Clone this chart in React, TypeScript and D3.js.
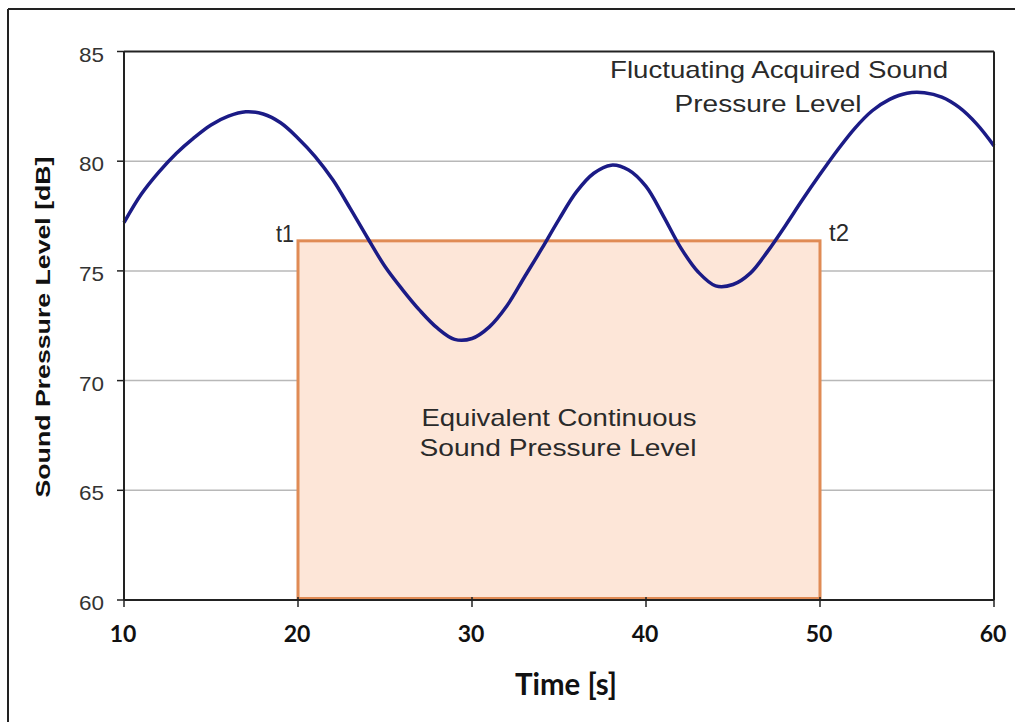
import React from "react";
import * as d3 from "d3";

const timeS: number[] = [
  10, 11, 12, 13, 14, 15, 16, 17, 18, 19, 20, 21, 22, 23, 24, 25, 26, 27, 28, 29, 30,
  31, 32, 33, 34, 35, 36, 37, 38, 39, 40, 41, 42, 43, 44, 45, 46, 47, 48, 49, 50,
  51, 52, 53, 54, 55, 56, 57, 58, 59, 60,
];
const splDb: number[] = [
  77.2, 78.5, 79.5, 80.35, 81.05, 81.65, 82.05, 82.25, 82.15, 81.75, 81.05, 80.2, 79.15, 77.85, 76.5,
  75.2, 74.15, 73.2, 72.4, 71.88, 71.92, 72.45, 73.4, 74.7, 76.0, 77.35, 78.6, 79.45, 79.82, 79.6,
  78.85, 77.5, 76.05, 74.95, 74.32, 74.38, 74.9, 75.9, 77.05, 78.25, 79.4, 80.5, 81.5, 82.3, 82.82,
  83.1, 83.12, 82.92, 82.45, 81.7, 80.7,
];
const xTicks: number[] = [10, 20, 30, 40, 50, 60];
const yTicks: number[] = [60, 65, 70, 75, 80, 85];
const intervalStart = 20; // t1
const intervalEnd = 50; // t2
const leqLevel = 76.37;
const yMin = 60;
const yMax = 85;

const W = 1015;
const H = 722;

export default function App() {
  const x = d3.scaleLinear().domain([10, 60]).range([124, 994]);
  const y = d3.scaleLinear().domain([yMin, yMax]).range([600, 51.5]);
  const line = d3
    .line<number>()
    .x((_, i) => x(timeS[i]))
    .y((d) => y(d))
    .curve(d3.curveCatmullRom.alpha(0.5));

  const sans = "'Liberation Sans', Arial, sans-serif";
  const bold = "Lato, 'Liberation Sans', sans-serif";

  return (
    <svg
      width={W}
      height={H}
      viewBox={`0 0 ${W} ${H}`}
      style={{ position: "absolute", left: 0, top: 0, background: "#fff" }}
    >
      <rect x={0} y={0} width={W} height={H} fill="#fff" />
      {/* outer frame (top + left visible) */}
      <line x1={8} y1={9} x2={W} y2={9} stroke="#222" strokeWidth={2} />
      <line x1={8} y1={9} x2={8} y2={H} stroke="#222" strokeWidth={2} />

      {/* gridlines */}
      {yTicks
        .filter((t) => t > yMin && t < yMax)
        .map((t) => (
          <line key={"g" + t} x1={x(10)} x2={x(60)} y1={y(t)} y2={y(t)} stroke="#b8b8b8" strokeWidth={1.5} />
        ))}

      {/* Leq rectangle */}
      <rect
        x={x(intervalStart)}
        y={y(leqLevel)}
        width={x(intervalEnd) - x(intervalStart)}
        height={y(yMin) - y(leqLevel) - 1.5}
        fill="#fde6d8"
        stroke="#e08b55"
        strokeWidth={3}
      />

      {/* curve */}
      <path d={line(splDb) || ""} fill="none" stroke="#1b1b86" strokeWidth={3.5} strokeLinejoin="round" />

      {/* plot frame */}
      <line x1={x(10)} x2={x(60)} y1={y(yMax)} y2={y(yMax)} stroke="#222" strokeWidth={2} />
      <line x1={x(60)} x2={x(60)} y1={y(yMax)} y2={y(yMin)} stroke="#222" strokeWidth={2} />
      <line x1={x(10)} x2={x(10)} y1={y(yMax)} y2={y(yMin)} stroke="#222" strokeWidth={2} />
      <line x1={x(10)} x2={x(60)} y1={y(yMin)} y2={y(yMin)} stroke="#222" strokeWidth={2} />

      {/* y ticks */}
      {yTicks.map((t) => (
        <g key={"y" + t}>
          <line x1={x(10) - 7} x2={x(10)} y1={y(t)} y2={y(t)} stroke="#222" strokeWidth={1.5} />
          <text
            x={104}
            y={y(t) + 2.5}
            textAnchor="end"
            dominantBaseline="central"
            fontFamily={sans}
            fontSize={21}
            fill="#333"
            textLength={25}
            lengthAdjust="spacingAndGlyphs"
          >
            {t}
          </text>
        </g>
      ))}

      {/* x ticks */}
      {xTicks.map((t) => (
        <g key={"x" + t}>
          <line x1={x(t)} x2={x(t)} y1={y(yMin) - 3} y2={y(yMin) + 7} stroke="#222" strokeWidth={1.5} />
          <text x={x(t) - 1} y={642} textAnchor="middle" fontFamily={bold} fontWeight={700} fontSize={23} fill="#111">
            {t}
          </text>
        </g>
      ))}

      {/* axis titles */}
      <text
        x={566}
        y={695}
        textAnchor="middle"
        fontFamily={bold}
        fontWeight={700}
        fontSize={30}
        fill="#111"
        textLength={102}
        lengthAdjust="spacingAndGlyphs"
      >
        Time [s]
      </text>
      <text
        transform={`translate(50, 327) rotate(-90)`}
        textAnchor="middle"
        fontFamily={sans}
        fontWeight={700}
        fontSize={21}
        fill="#111"
        textLength={341}
        lengthAdjust="spacingAndGlyphs"
      >
        Sound Pressure Level [dB]
      </text>

      {/* annotations */}
      <text x={779} y={78} textAnchor="middle" fontFamily={sans} fontSize={24} fill="#2a2a2a" textLength={338} lengthAdjust="spacingAndGlyphs">
        Fluctuating Acquired Sound
      </text>
      <text x={768} y={112} textAnchor="middle" fontFamily={sans} fontSize={24} fill="#2a2a2a" textLength={187} lengthAdjust="spacingAndGlyphs">
        Pressure Level
      </text>
      <text x={294} y={242} textAnchor="end" fontFamily={sans} fontSize={24} fill="#2a2a2a" textLength={18} lengthAdjust="spacingAndGlyphs">
        t1
      </text>
      <text x={829} y={241} textAnchor="start" fontFamily={sans} fontSize={24} fill="#2a2a2a" textLength={20} lengthAdjust="spacingAndGlyphs">
        t2
      </text>
      <text x={559} y={426} textAnchor="middle" fontFamily={sans} fontSize={24} fill="#2a2a2a" textLength={275} lengthAdjust="spacingAndGlyphs">
        Equivalent Continuous
      </text>
      <text x={558} y={456} textAnchor="middle" fontFamily={sans} fontSize={24} fill="#2a2a2a" textLength={277} lengthAdjust="spacingAndGlyphs">
        Sound Pressure Level
      </text>
    </svg>
  );
}
